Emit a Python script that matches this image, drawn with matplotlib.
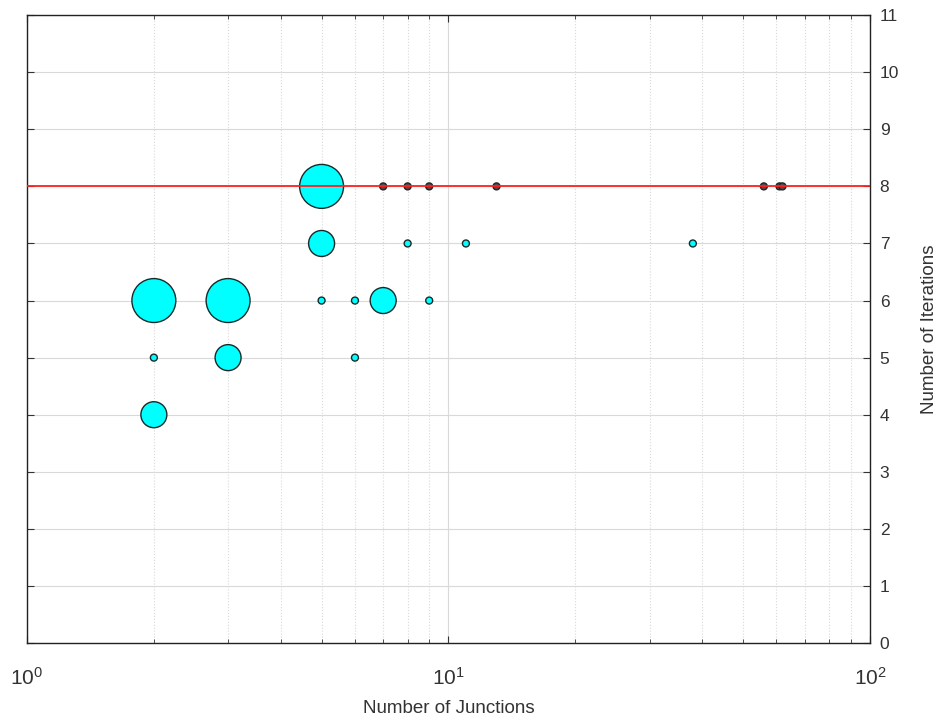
import matplotlib
matplotlib.use('Agg')
from matplotlib import pyplot as plt
from matplotlib.ticker import LogLocator, NullFormatter, FixedLocator

plt.rcParams['font.family'] = ['Liberation Sans', 'DejaVu Sans']

# junction count, iteration count, bubble weight (1 small, 2 medium, 3 large)
junctions = [5, 7, 8, 9, 13, 56, 61, 62,
             5, 8, 11, 38,
             2, 3, 5, 6, 7, 9,
             2, 3, 6,
             2]
iterations = [8, 8, 8, 8, 8, 8, 8, 8,
              7, 7, 7, 7,
              6, 6, 6, 6, 6, 6,
              5, 5, 5,
              4]
weights = [3, 1, 1, 1, 1, 1, 1, 1,
           2, 1, 1, 1,
           3, 3, 1, 1, 2, 1,
           1, 2, 1,
           2]
limit_iterations = 8

size_map = {1: 25, 2: 350, 3: 1000}
sizes = [size_map[w] for w in weights]
colors = ['#6a4040' if (y == limit_iterations and w == 1) else 'cyan'
          for y, w in zip(iterations, weights)]

fig = plt.figure(figsize=(9.4, 7.22), dpi=100)
ax = fig.add_axes([0.0287, 0.1094, 0.8968, 0.8696])

ax.set_xscale('log')
ax.set_xlim(1, 100)
ax.set_ylim(0, 11)

ax.grid(True, which='major', axis='both', color='#d9d9d9', linestyle='-', linewidth=0.8)
ax.grid(True, which='minor', axis='x', color='#d9d9d9', linestyle=':', linewidth=0.8)
ax.set_axisbelow(True)

ax.scatter(junctions, iterations, s=sizes, c=colors, edgecolors='#1a2a2a',
           linewidths=1.0, zorder=3)
ax.axhline(limit_iterations, color='#ff2020', linewidth=1.3, zorder=4)

ax.yaxis.set_major_locator(FixedLocator(range(0, 12)))
ax.yaxis.tick_right()
ax.yaxis.set_label_position('right')
ax.xaxis.set_minor_locator(LogLocator(base=10, subs=range(2, 10)))
ax.xaxis.set_minor_formatter(NullFormatter())

ax.tick_params(axis='both', which='both', direction='in',
               colors='#333333', top=True, left=True, right=True)
ax.tick_params(axis='x', which='major', length=5, pad=17, labelsize=15)
ax.tick_params(axis='x', which='minor', length=3)
ax.tick_params(axis='y', which='major', length=5, pad=7, labelsize=12.5)

for sp in ax.spines.values():
    sp.set_color('#222222')
    sp.set_linewidth(1.0)

ax.set_xlabel('Number of Junctions', fontsize=13.5, color='#333333', labelpad=8)
ax.set_ylabel('Number of Iterations', fontsize=13.5, color='#333333', labelpad=16,
              rotation=90)

plt.savefig('out.png', dpi=100)
